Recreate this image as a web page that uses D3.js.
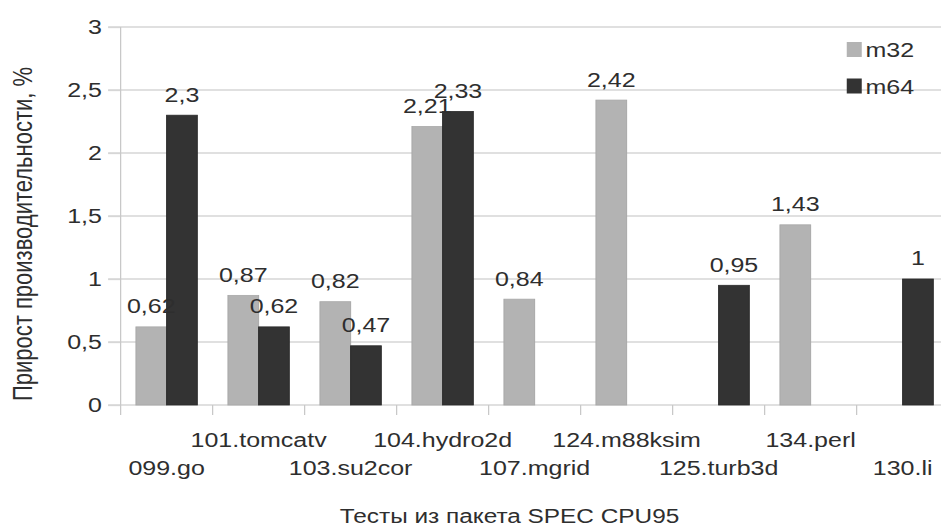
<!DOCTYPE html>
<html>
<head>
<meta charset="utf-8">
<script src="https://cdn.jsdelivr.net/npm/d3@7"></script>
<style>
  body { margin: 0; background: #fff; }
  text { font-family: "Liberation Sans", Arial, sans-serif; fill: #2e2e2e; }
</style>
</head>
<body>
<svg id="chart"></svg>
<script>
// data
const categories = ["099.go", "101.tomcatv", "103.su2cor", "104.hydro2d", "107.mgrid",
                    "124.m88ksim", "125.turb3d", "134.perl", "130.li"];
const seriesNames = ["m32", "m64"];
const m32 = [0.62, 0.87, 0.82, 2.21, 0.84, 2.42, null, 1.43, null];
const m64 = [2.3, 0.62, 0.47, 2.33, null, null, 0.95, null, 1];
const yTicks = [0, 0.5, 1, 1.5, 2, 2.5, 3];
const yTitle = "Прирост производительности, %";
const xTitle = "Тесты из пакета SPEC CPU95";

const width = 941, height = 527;
// the original picture is stretched sideways, so draw in a narrower frame and widen it
const sx = 1.25;
const W = width / sx;
const x0 = 96.5, step = 73.6;
const colors = { m32: "#b3b3b3", m64: "#333333" };
const strokes = { m32: "#a8a8a8", m64: "#2b2b2b" };
const gridColor = "#d6d6d6";
const fmt = v => String(v).replace(".", ",");

const svg = d3.select("#chart").attr("width", width).attr("height", height);
const g = svg.append("g").attr("transform", `scale(${sx},1)`);

const x = d3.scaleBand().domain(categories).range([x0, x0 + step * categories.length]);
const xs = d3.scaleBand().domain(seriesNames).range([0, x.bandwidth()]).paddingOuter(0.5);
const y = d3.scaleLinear().domain([0, 3]).range([405, 27]);

// gridlines
g.append("g").selectAll("line")
  .data(yTicks)
  .enter().append("line")
  .attr("x1", x0 - 10).attr("x2", W)
  .attr("y1", d => y(d)).attr("y2", d => y(d))
  .attr("stroke", gridColor).attr("stroke-width", 1.3);

// y axis
const yAxis = g.append("g")
  .attr("transform", `translate(${x0},0)`)
  .call(d3.axisLeft(y).tickValues(yTicks).tickFormat(fmt).tickSize(10).tickPadding(5));
yAxis.select(".domain").remove();
yAxis.selectAll(".tick line").attr("stroke", gridColor).attr("stroke-width", 1.3);
yAxis.selectAll(".tick text")
  .style("font-family", '"Liberation Sans", Arial, sans-serif')
  .style("font-size", "20px").attr("fill", "#2e2e2e");

g.append("line")
  .attr("x1", x0).attr("x2", x0)
  .attr("y1", y(3)).attr("y2", y(0) + 10)
  .attr("stroke", "#c8c8c8").attr("stroke-width", 1);

// x ticks at category boundaries
const bounds = categories.map(c => x(c)).concat([x.range()[1]]);
g.append("g").selectAll("line")
  .data(bounds.slice(1))
  .enter().append("line")
  .attr("x1", d => d).attr("x2", d => d)
  .attr("y1", y(0)).attr("y2", y(0) + 10)
  .attr("stroke", "#c8c8c8").attr("stroke-width", 1);

// x labels, staggered in two rows
g.append("g").selectAll("text")
  .data(categories)
  .enter().append("text")
  .attr("x", d => x(d) + x.bandwidth() / 2)
  .attr("y", (d, i) => i % 2 ? 447 : 475)
  .attr("text-anchor", "middle")
  .style("font-size", "20px")
  .text(d => d);

// bars first, value labels on top
const seriesData = { m32: m32, m64: m64 };
const points = seriesNames.map(s =>
  categories.map((c, i) => ({ s: s, c: c, v: seriesData[s][i] })).filter(d => d.v != null));

points.forEach(pts => {
  g.append("g").selectAll("rect")
    .data(pts)
    .enter().append("rect")
    .attr("x", d => x(d.c) + xs(d.s))
    .attr("width", xs.bandwidth())
    .attr("y", d => y(d.v))
    .attr("height", d => y(0) - y(d.v))
    .attr("fill", d => colors[d.s])
    .attr("stroke", d => strokes[d.s])
    .attr("stroke-width", 0.8);
});

points.forEach(pts => {
  g.append("g").selectAll("text")
    .data(pts)
    .enter().append("text")
    .attr("x", d => x(d.c) + xs(d.s) + xs.bandwidth() / 2)
    .attr("y", d => y(d.v) - 13.5)
    .attr("text-anchor", "middle")
    .style("font-size", "20px")
    .text(d => fmt(d.v));
});

// legend
const legend = g.append("g").selectAll("g")
  .data(seriesNames)
  .enter().append("g")
  .attr("transform", (d, i) => `translate(677.4,${49.5 + i * 36.5})`);
legend.append("rect")
  .attr("x", 0).attr("y", -7.5)
  .attr("width", 12).attr("height", 15)
  .attr("fill", d => colors[d]);
legend.append("text")
  .attr("x", 15).attr("y", 7.5)
  .style("font-size", "20px")
  .text(d => d);

// axis titles
g.append("text")
  .attr("transform", `translate(25.6,234) rotate(-90)`)
  .attr("text-anchor", "middle")
  .style("font-size", "22px")
  .text(yTitle);

g.append("text")
  .attr("x", 407.6).attr("y", 523)
  .attr("text-anchor", "middle")
  .style("font-size", "19.5px")
  .text(xTitle);
</script>
</body>
</html>
